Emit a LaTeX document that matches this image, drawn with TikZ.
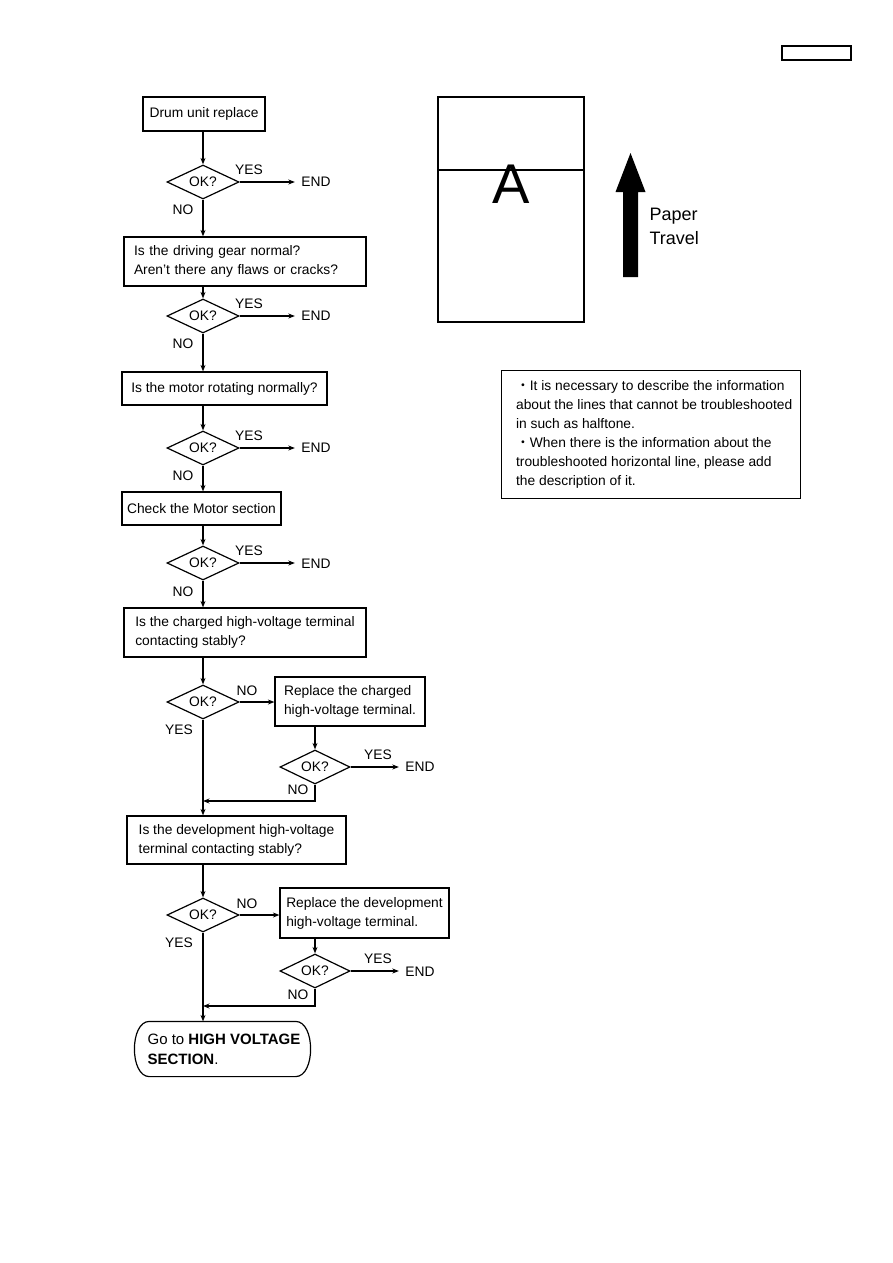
\documentclass[tikz,border=0pt]{standalone}
\usepackage{fontspec}
\setmainfont{Liberation Sans}
\newfontfamily\cjk{Noto Sans CJK JP}
\usetikzlibrary{shapes.geometric,arrows.meta}
\begin{document}
\begin{tikzpicture}[x=1pt,y=-1pt, line width=1.2pt,
 every node/.style={font=\fontsize{13.8}{19}\selectfont, inner sep=0pt},
 box/.style={draw, rectangle, inner xsep=0pt, align=left},
 dia/.style={draw, diamond, minimum width=72pt, minimum height=34pt, aspect=2.1, inner sep=0pt},
 arr/.style={-{Stealth[length=6.5pt,width=5pt]}}]
\useasboundingbox (0,0) rectangle (893,1263);

% header box
\node[draw, minimum width=69pt, minimum height=14pt] (hdr) at (816.5,53) {};

% ---------- flow ----------
\node[box, minimum width=122pt, minimum height=34pt] (b1) at (204,114) {Drum unit replace};
\node[dia] (d1) at (203,182) {OK?};
\node (y1) at (249,170) {YES};
\node (e1) at (316,182) {END};
\node (n1) at (183,210) {NO};

\node[box, text width=230pt, inner xsep=6pt, minimum height=49pt] (b2) at (245,261.5) {\hspace*{4pt}Is the driving gear normal?\\\hspace*{4pt}Aren't there any flaws or cracks?};
\node[dia] (d2) at (203,316) {OK?};
\node (y2) at (249,304) {YES};
\node (e2) at (316,316) {END};
\node (n2) at (183,344) {NO};

\node[box, minimum width=205pt, minimum height=33pt] (b3) at (224.5,388.5) {Is the motor rotating normally?};
\node[dia] (d3) at (203,448) {OK?};
\node (y3) at (249,436) {YES};
\node (e3) at (316,448) {END};
\node (n3) at (183,476) {NO};

\node[box, minimum width=159pt, minimum height=33pt] (b4) at (201.5,508.5) {Check the Motor section};
\node[dia] (d4) at (203,563) {OK?};
\node (y4) at (249,551) {YES};
\node (e4) at (316,563.5) {END};
\node (n4) at (183,592) {NO};

\node[box, minimum width=242pt, minimum height=49pt] (b5) at (245,632.5) {Is the charged high-voltage terminal\\contacting stably?};
\node[dia] (d5) at (203,702) {OK?};
\node (n5) at (247,691) {NO};
\node (y5) at (179,730) {YES};

\node[box, minimum width=150pt, minimum height=49pt] (b6) at (350,701.5) {Replace the charged\\high-voltage terminal.};
\node[dia, minimum width=70pt] (d6) at (315,767) {OK?};
\node (y6) at (378,755) {YES};
\node (e6) at (420,767) {END};
\node (n6) at (298,790) {NO};
\coordinate (j1) at (203,801);

\node[box, minimum width=219pt, minimum height=48pt] (b7) at (236.5,840) {Is the development high-voltage\\terminal contacting stably?};
\node[dia] (d7) at (203,915) {OK?};
\node (n7) at (247,904) {NO};
\node (y7) at (179,943) {YES};

\node[box, minimum width=169pt, minimum height=50pt] (b8) at (364.5,913) {Replace the development\\high-voltage terminal.};
\node[dia, minimum width=70pt] (d8) at (315,971) {OK?};
\node (y8) at (378,959) {YES};
\node (e8) at (420,971.5) {END};
\node (n8) at (298,995) {NO};
\coordinate (j2) at (203,1006);

% terminal
\node[minimum width=175pt, minimum height=54pt] (t) at (222.5,1049) {};
\draw ([xshift=15pt]t.north west) -- ([xshift=-15pt]t.north east)
  .. controls ([xshift=5pt]t.north east) and ([xshift=5pt]t.south east) .. ([xshift=-15pt]t.south east)
  -- ([xshift=15pt]t.south west)
  .. controls ([xshift=-5pt]t.south west) and ([xshift=-5pt]t.north west) .. cycle;
\node[align=left, anchor=west, font=\fontsize{15}{20}\selectfont] (tt) at (147,1049) {Go to \textbf{HIGH VOLTAGE}\\\textbf{SECTION}.};

% connectors
\foreach \b/\d/\e/\nb in {b1/d1/e1/b2, b2/d2/e2/b3, b3/d3/e3/b4, b4/d4/e4/b5}{
  \draw[arr] (\d.north |- \b.south) -- (\d.north);
  \draw[arr, shorten >=6pt] (\d.east) -- (\d.east -| \e.west);
  \draw[arr] (\d.south) -- (\d.south |- \nb.north);
}
\draw[arr] (d5.north |- b5.south) -- (d5.north);
\draw[arr] (d5.east) -- (d5.east -| b6.west);
\draw[arr] (d6.north |- b6.south) -- (d6.north);
\draw[arr, shorten >=6pt] (d6.east) -- (d6.east -| e6.west);
\draw[arr] (d6.south) |- (j1);
\draw[arr] (d5.south) -- (d5.south |- b7.north);

\draw[arr] (d7.north |- b7.south) -- (d7.north);
\draw[arr] (d7.east) -- (d7.east -| b8.west);
\draw[arr] (d8.north |- b8.south) -- (d8.north);
\draw[arr, shorten >=6pt] (d8.east) -- (d8.east -| e8.west);
\draw[arr] (d8.south) |- (j2);
\draw[arr] (d7.south) -- (d7.south |- t.north);

% ---------- page sketch ----------
\node[draw, minimum width=146pt, minimum height=225pt] (pg) at (511,209.5) {};
\coordinate (l1) at (438,170);
\coordinate (l2) at (584,170);
\draw (l1) -- (l2);
\node[font=\fontsize{56}{56}\selectfont, anchor=base] (A) at (511,203) {A};
\fill (623,277) -- (623,192) -- (615.5,192) -- (630.5,153) -- (645.5,192) -- (638,192) -- (638,277) -- cycle;
\node[font=\fontsize{18}{24}\selectfont, anchor=base west] (p1) at (649,220) {Paper};
\node[font=\fontsize{18}{24}\selectfont, anchor=base west] (p2) at (649,244) {Travel};

% ---------- note ----------
\node[draw, minimum width=299pt, minimum height=128pt, anchor=north west] (note) at (501,370) {};
\node[align=left, anchor=west] (notetxt) at (515.5,434) {{\cjk ・}It is necessary to describe the information\\about the lines that cannot be troubleshooted\\in such as halftone.\\{\cjk ・}When there is the information about the\\troubleshooted horizontal line, please add\\the description of it.};
\end{tikzpicture}
\end{document}
